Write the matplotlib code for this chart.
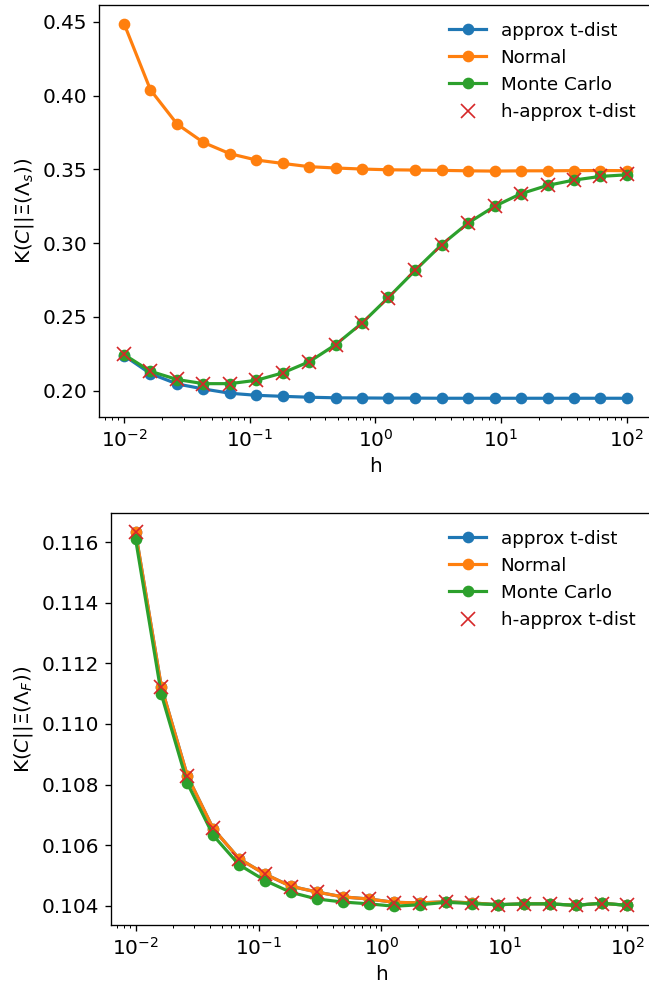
import numpy as np
import matplotlib
matplotlib.use("Agg")
import matplotlib.pyplot as plt

plt.rcParams['font.size'] = 12
plt.rcParams['legend.fontsize'] = 11

# valores de h (20 puntos, escala log)
h = [0.01, 0.0162, 0.0264, 0.0428, 0.0695, 0.113, 0.183, 0.298, 0.483, 0.785,
     1.27, 2.07, 3.36, 5.46, 8.86, 14.4, 23.4, 37.9, 61.6, 100.0]

# panel superior: K(C||Xi(Lambda_s))
s_tdist = [0.2237, 0.2115, 0.2045, 0.2011, 0.1982, 0.1968, 0.1961, 0.1955, 0.1951, 0.1950,
           0.1949, 0.1949, 0.1948, 0.1948, 0.1948, 0.1948, 0.1948, 0.1948, 0.1948, 0.1948]
s_normal = [0.4487, 0.4039, 0.3807, 0.3682, 0.3606, 0.3563, 0.3540, 0.3518, 0.3509, 0.3502,
            0.3497, 0.3495, 0.3493, 0.3490, 0.3488, 0.3490, 0.3490, 0.3491, 0.3492, 0.3491]
s_mc = [0.2244, 0.2131, 0.2075, 0.2047, 0.2047, 0.2070, 0.2120, 0.2196, 0.2312, 0.2459,
        0.2632, 0.2815, 0.2989, 0.3136, 0.3249, 0.3335, 0.3391, 0.3427, 0.3452, 0.3463]
s_htdist = [0.2245, 0.2130, 0.2076, 0.2046, 0.2046, 0.2071, 0.2121, 0.2197, 0.2311, 0.2460,
            0.2631, 0.2816, 0.2990, 0.3135, 0.3250, 0.3336, 0.3392, 0.3428, 0.3453, 0.3465]

# panel inferior: K(C||Xi(Lambda_F))
f_tdist = [0.11633, 0.11123, 0.10828, 0.10654, 0.10555, 0.10504, 0.10464, 0.10445, 0.10429, 0.10422,
           0.10411, 0.10409, 0.10413, 0.10409, 0.10403, 0.10406, 0.10406, 0.10401, 0.10408, 0.10401]
f_normal = [0.11633, 0.11123, 0.10828, 0.10654, 0.10555, 0.10504, 0.10464, 0.10445, 0.10429, 0.10422,
            0.10411, 0.10409, 0.10413, 0.10409, 0.10403, 0.10406, 0.10406, 0.10401, 0.10408, 0.10401]
f_mc = [0.11611, 0.11098, 0.10804, 0.10632, 0.10535, 0.10483, 0.10444, 0.10422, 0.10412, 0.10406,
        0.10398, 0.10403, 0.10411, 0.10407, 0.10403, 0.10406, 0.10406, 0.10401, 0.10408, 0.10401]
f_htdist = [0.11635, 0.11122, 0.10827, 0.10655, 0.10554, 0.10503, 0.10463, 0.10444, 0.10428, 0.10421,
            0.10410, 0.10408, 0.10413, 0.10408, 0.10403, 0.10405, 0.10405, 0.10401, 0.10407, 0.10401]

dpi = 120
fig = plt.figure(figsize=(649 / dpi, 986 / dpi), dpi=dpi)
ax1 = fig.add_axes([0.1525, 0.5771, 0.852, 0.4178])
ax2 = fig.add_axes([0.171, 0.0619, 0.8336, 0.4178])

paneles = [(ax1, s_tdist, s_normal, s_mc, s_htdist, r'K$(C||\Xi(\Lambda_s))$'),
           (ax2, f_tdist, f_normal, f_mc, f_htdist, r'K$(C||\Xi(\Lambda_F))$')]

for ax, td, nrm, mc, htd, ylab in paneles:
    ax.plot(h, td, 'o-', color='tab:blue', lw=1.9, label='approx t-dist')
    ax.plot(h, nrm, 'o-', color='tab:orange', lw=1.9, label='Normal')
    ax.plot(h, mc, 'o-', color='tab:green', lw=1.9, label='Monte Carlo')
    ax.plot(h, htd, 'x', color='tab:red', ms=8, label='h-approx t-dist')
    ax.set_xscale('log')
    ax.set_xlabel('h')
    ax.set_ylabel(ylab)
    ax.legend(loc='upper right', frameon=False)

fig.savefig('out.png', dpi=dpi)
